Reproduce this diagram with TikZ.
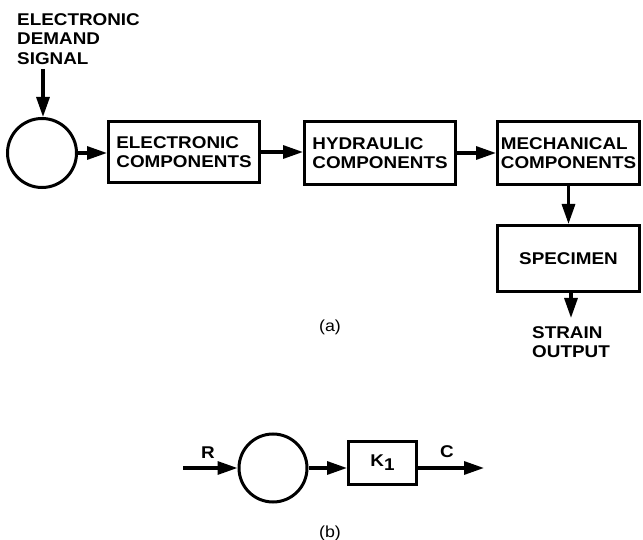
\documentclass[tikz,border=0pt]{standalone}
\usepackage{fontspec}
\setmainfont{Liberation Sans}[FakeStretch=1.11]
\usetikzlibrary{arrows.meta}
\begin{document}
\begin{tikzpicture}[x=1pt,y=-1pt,
  lbl/.style={font=\fontsize{17}{19.5}\selectfont\bfseries, align=left, inner sep=0pt},
  blk/.style={draw, line width=3pt, lbl},
  sumc/.style={draw, circle, line width=3pt, inner sep=0pt},
  arr/.style={line width=3.2pt, -{Triangle[length=20pt,width=13pt]}},
  captxt/.style={font=\fontsize{16}{18}\selectfont, inner sep=0pt}]
\useasboundingbox (0,0) rectangle (643,540);
% (a)
\node[lbl, anchor=north west] (dem) at (17,13) {ELECTRONIC\\DEMAND\\SIGNAL};
\coordinate (demEnd) at (43,69);
\node[sumc, minimum size=69pt] (cA) at (42,153) {};
\node[blk, minimum width=151pt, minimum height=61pt] (b1) at (184,152) {ELECTRONIC\\COMPONENTS};
\node[blk, minimum width=151pt, minimum height=63pt] (b2) at (380,153) {HYDRAULIC\\COMPONENTS};
\node[blk, minimum width=142pt, minimum height=63pt] (b3) at (568.5,153) {MECHANICAL\\COMPONENTS};
\node[blk, minimum width=142pt, minimum height=66pt] (sp) at (568.5,258.5) {SPECIMEN};
\coordinate (spEnd) at (571,318);
\node[lbl] (so) at (571,342) {STRAIN\\OUTPUT};
\node[captxt] (la) at (330,327) {(a)};
\draw[arr] (demEnd) -- (demEnd |- cA.north);
\draw[arr] (cA.east) -- (b1.west |- cA.east);
\draw[arr] (b1.east) -- (b2.west |- b1.east);
\draw[arr] (b2.east) -- (b3.west |- b2.east);
\draw[arr] (b3.south) -- (sp.north);
\draw[arr] (spEnd |- sp.south) -- (spEnd);
% (b)
\coordinate (rS) at (183,468);
\node[sumc, minimum size=68pt] (cB) at (273,468) {};
\node[blk, minimum width=68pt, minimum height=43pt] (k) at (382.5,463) {K\raisebox{-0.45ex}{1}};
\coordinate (cE) at (484,468);
\node[lbl] (rl) at (208,453) {R};
\node[lbl] (cl) at (447,452) {C};
\node[captxt] (lb) at (330,533) {(b)};
\draw[arr] (rS) -- (cB.west);
\draw[arr] (cB.east) -- (k.west |- cB.east);
\draw[arr] (k.east |- cE) -- (cE);
\end{tikzpicture}
\end{document}
